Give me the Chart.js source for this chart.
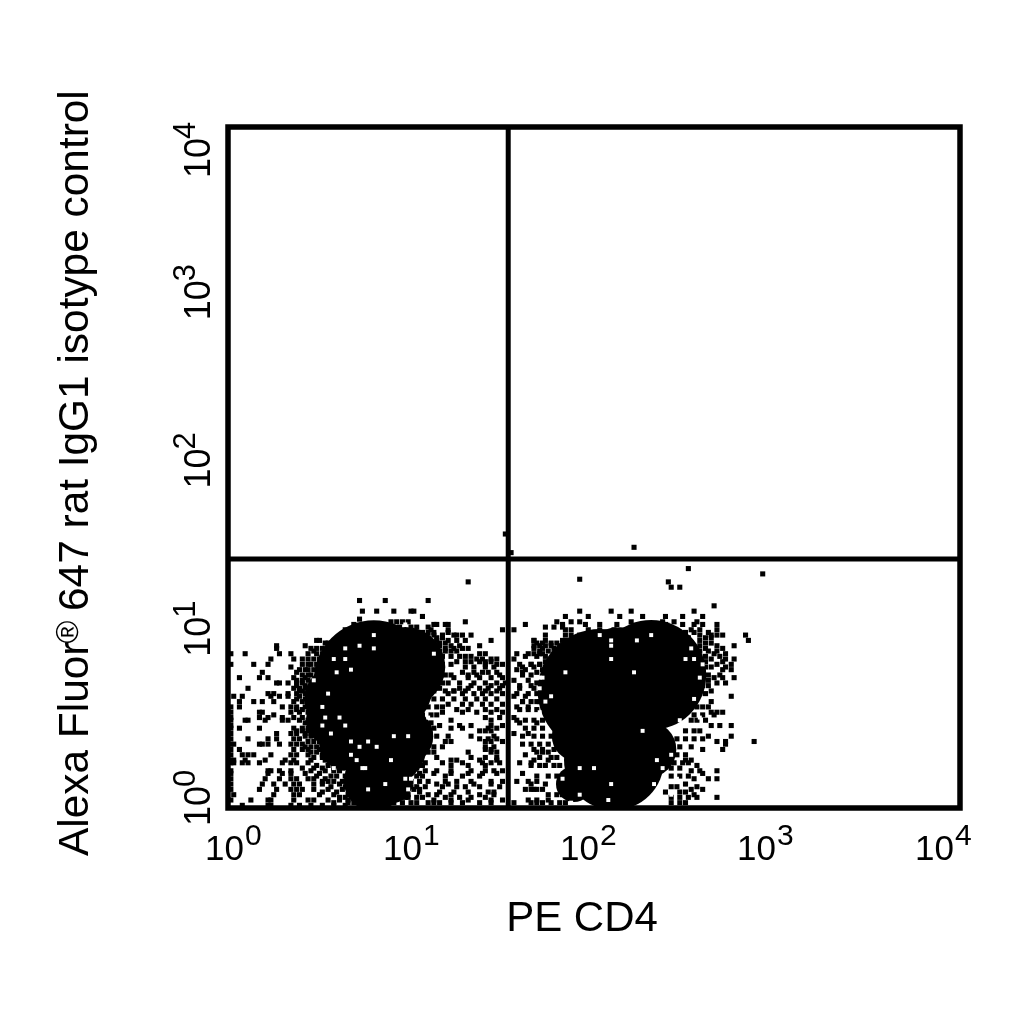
<!DOCTYPE html>
<html>
<head>
<meta charset="utf-8">
<title>PE CD4 dot plot</title>
<script src="https://cdn.jsdelivr.net/npm/chart.js@4"></script>
<style>
  html, body { margin: 0; padding: 0; background: #fff; }
  canvas { display: block; }
</style>
</head>
<body>
<canvas id="dotPlot" width="1024" height="1024"></canvas>
<script>
const channelsPerDecade = 64;
const decades = [0, 1, 2, 3, 4];
const xAxisTitle = "PE CD4";
const yAxisTitle = ["Alexa Fluor", "\u00AE", " 647 rat IgG1 isotype control"];

// quadrant gate, in channels
const gateXChannel = 98;
const gateYChannel = 93.6;

// saturated parts of the three populations [x, y]
const coreEvents = [
  [51, 48], [130, 44], [148, 50], [135, 18], [55, 24], [51, 10], [36, 33], [62, 53], [39, 41],
  [137, 51], [122, 27], [147, 22], [41, 24], [62, 27], [121, 9], [57, 10]
];

// [y, x, x, ...] rows of single events
const leftEvents = [
  [78, 46], [74, 47], [71, 46], [69, 44], [67, 41], [65, 43], [63, 31, 32], [61, 17, 27], [60, 17, 29], [59, 30],
  [58, 1, 6, 18, 22], [56, 15, 23, 26], [54, 1, 9, 14, 28], [53, 22], [52, 27], [51, 12, 24],
  [49, 4, 11, 14, 23, 27], [47, 17, 18, 21, 24, 26], [45, 7, 23, 25, 27], [43, 14, 16, 21, 24, 27, 29],
  [42, 2, 5, 15, 18, 21, 25, 28], [40, 4, 9, 12, 16, 23, 26, 29], [38, 1, 4, 19, 22, 24, 27],
  [36, 1, 11, 12, 22, 25, 28], [35, 16], [34, 1, 11, 14, 19, 23, 26], [33, 1, 6, 7, 13, 19, 21, 25, 28],
  [31, 1], [30, 1, 4, 11, 23, 26, 28], [28, 1, 17, 22, 24, 27, 29], [26, 1, 7, 14, 17, 23, 25],
  [24, 1, 2, 11, 12, 14, 18, 22, 24, 26], [22, 1, 4, 23, 26, 28, 32], [20, 1, 5, 7, 9, 15, 22, 24, 28, 33],
  [18, 1, 2, 6, 13, 20, 23, 29], [17, 1, 2, 5, 7, 11, 19, 22, 24, 28], [14, 1, 14, 15, 18, 22, 29, 34],
  [13, 1, 14, 19, 22, 27, 32], [11, 1, 13, 18, 22, 24, 28, 30, 34], [9, 1, 12, 16, 20, 23, 25, 30, 33, 39],
  [7, 1, 11, 17, 22, 24, 26, 30, 35, 40], [5, 2, 16, 23, 25, 32, 37, 42], [3, 1, 8, 14, 15, 23, 28, 30, 35, 39, 42],
  [1, 5, 14, 15, 22, 25, 29, 33, 37, 41]
];
const middleEvents = [
  [78, 55, 70], [74, 52, 58, 64, 65], [72, 68], [70, 83], [69, 72, 73, 76, 77, 104], [67, 71, 77, 96, 100],
  [66, 77], [65, 72, 75, 79, 80, 82, 85], [63, 73, 77, 80, 83, 92, 107], [61, 74, 78, 81, 88, 107, 109],
  [60, 76, 79, 82, 84], [58, 88, 90, 101, 105, 109], [57, 81, 83, 85], [56, 87, 89, 92, 94, 100], [55, 80, 83, 85, 88, 90, 92],
  [54, 90, 94, 96, 102, 106, 109], [53, 83, 86, 90, 93], [52, 101, 104], [51, 74, 82, 86, 89, 91, 94, 103, 108],
  [50, 84, 87, 95], [49, 79, 84, 88, 92, 96], [48, 100, 105], [47, 77, 81, 86, 90, 94, 97], [46, 85, 92, 96],
  [45, 74, 81, 84, 88, 91, 95, 102, 107], [44, 79, 83, 90, 94],
  [43, 77, 82, 86, 89, 92, 96], [42, 100, 104], [41, 79, 83, 87, 90, 94], [40, 103, 108],
  [39, 77, 82, 85, 89, 92, 96], [38, 101, 105], [37, 80, 84, 90, 94], [36, 75, 82, 87, 92, 96], [34, 90, 95, 100],
  [33, 78, 92], [32, 102, 108],
  [31, 74, 81, 85, 92, 96], [30, 72, 78, 82, 91, 94], [29, 88, 90, 92], [28, 100, 105], [27, 73, 77, 85, 93],
  [26, 88, 91, 94], [25, 76, 78, 90, 92, 96],
  [23, 72, 75, 90, 93], [22, 90, 92], [21, 70, 72, 84, 92, 94], [20, 104], [19, 73, 85, 90, 94], [18, 78, 80, 88, 94],
  [17, 69, 75, 82, 89, 92, 95, 102, 106], [16, 78, 84, 90],
  [14, 69, 73, 78, 85, 90, 93, 96], [13, 72, 78, 84, 89, 94, 103], [12, 76, 82, 88], [10, 70, 76, 80, 85, 92, 96, 101, 105, 108],
  [9, 73, 77, 86, 92], [8, 69, 75, 80, 83, 88, 95], [7, 104, 107], [6, 67, 74, 79, 84, 91, 93], [5, 70, 73, 78, 88, 93],
  [4, 60, 66, 76, 81, 85, 90], [3, 72, 78, 84, 92, 96],
  [2, 61, 70, 78, 82, 88, 92, 100, 106, 108]
];
const rightEvents = [
  [76, 170], [74, 123, 134, 141, 163], [72, 118, 126, 137, 145, 153, 159, 166],
  [70, 115, 120, 123, 141, 152, 156, 164], [69, 117, 125, 130, 136, 145, 153, 159, 163, 166, 171],
  [67, 118, 120, 126, 130, 135, 144, 162, 165, 171], [65, 111, 118, 120, 123, 165, 169, 171, 173, 181],
  [63, 107, 111, 117, 118, 165, 182], [61, 111, 113, 116, 165, 171, 177], [60, 107, 110, 114, 117, 167, 173],
  [58, 107, 110, 114, 117, 170, 174], [56, 169, 174, 177], [54, 106, 109, 113, 171, 176], [52, 110, 173, 176],
  [49, 170, 173, 177], [47, 108, 110, 171, 174], [44, 169], [42, 176], [40, 169], [36, 169, 171, 173],
  [31, 169, 172, 176], [27, 168, 176], [25, 171, 174, 184], [24, 174], [22, 166, 173], [21, 108, 110, 112],
  [18, 107, 112, 160, 162], [16, 106, 109, 164], [14, 162, 165, 171], [13, 166], [11, 163, 168, 171],
  [9, 106, 111, 160], [7, 106, 108, 110, 162, 166], [5, 163], [4, 164, 171], [3, 105, 108, 112]
];
const outlierEvents = [
  [103, 97], [98, 142], [96, 99], [90, 161], [88, 187], [86, 123], [85, 84, 154], [83, 155, 158]
];
// denser events on the shoulders of the populations
const shoulderEvents = [
  [70, 57, 59, 61, 63], [68, 50, 52, 54, 56, 60, 64, 66, 70], [66, 48, 50, 53, 55, 59, 62, 66, 68, 70, 72],
  [64, 47, 49, 52, 56, 60, 65, 68, 70, 73, 75], [62, 34, 35, 37, 39, 42, 44, 47, 50, 54, 57, 60, 63, 66, 69, 72, 74, 76],
  [60, 31, 33, 35, 37], [59, 74, 76, 78, 80], [58, 28, 31, 33, 35], [57, 72, 75, 78], [56, 28, 30, 32], [54, 26, 29, 31, 73, 75, 78],
  [52, 25, 28, 30], [50, 26, 28, 29, 72, 76, 78], [48, 24, 26, 28], [47, 72, 75], [46, 24, 27, 29], [44, 25, 26, 28, 72, 76, 79],
  [41, 24, 27, 29, 72, 75], [38, 70, 73, 75], [37, 24, 26, 29], [35, 68, 71, 73], [32, 27, 29, 30, 68, 71], [29, 24, 26, 28, 30, 66, 69],
  [27, 27, 29, 31], [26, 64, 67, 70], [25, 28, 30, 32], [23, 27, 29, 31, 33], [22, 63, 66, 68], [21, 29, 31, 35], [19, 30, 33, 36],
  [18, 62, 65, 67], [16, 31, 35, 38], [15, 26, 30, 33, 37, 40, 60, 63, 66], [12, 31, 36, 38, 41, 60, 63, 66, 68], [10, 33, 37, 40],
  [8, 36, 41, 44, 58, 61, 64, 66], [6, 33, 38, 43], [5, 57, 60, 63], [4, 39, 41, 44, 46], [2, 37, 42, 44, 47, 52, 55, 58],
  [30, 68, 70], [28, 33, 35, 38], [27, 66, 68], [26, 33, 36], [24, 34, 37, 40, 66, 69], [22, 35, 38], [21, 66, 68], [20, 35, 37, 40],
  [19, 64, 67], [18, 34, 37, 39, 42], [16, 39, 41, 43, 64, 68], [14, 37, 39, 42, 45], [13, 64, 67], [12, 43, 45],
  [10, 35, 42, 44, 47, 64, 67], [8, 46, 48], [7, 65, 67], [6, 45, 47, 50], [4, 48, 50, 53, 62, 63, 68], [3, 45, 47, 49, 52, 56], [2, 64, 66, 72, 74],
  [68, 111, 114, 117], [62, 108, 110, 113, 115, 119], [59, 109, 112, 115, 118], [57, 104, 108, 111, 115, 118], [55, 111, 115, 118],
  [53, 103, 107, 111, 114], [50, 103, 106, 112, 115], [46, 102, 106, 110, 113], [43, 101, 105, 108], [40, 103, 106, 109],
  [37, 102, 105, 108], [33, 101, 104, 107, 110], [30, 104, 107, 110], [27, 103, 107, 110, 113], [24, 103, 106, 109, 112, 115],
  [22, 107, 110, 114], [19, 109, 113, 115], [16, 111, 114, 116], [12, 108, 112, 115], [5, 112, 115, 117], [2, 110, 113, 116, 118],
  [66, 160, 163, 168], [64, 158, 161, 167, 169], [62, 162, 167, 169], [59, 163, 165, 168, 171], [57, 165, 167, 172],
  [55, 164, 167, 173], [53, 167, 169, 174], [50, 165, 168, 172], [48, 166, 168], [46, 166, 168], [43, 165, 167],
  [38, 164, 166, 168], [35, 163, 166, 170], [33, 162, 164, 167], [29, 160, 163, 165], [26, 157, 160, 163, 166],
  [23, 155, 158, 162], [20, 153, 157, 160], [17, 156, 159, 161], [15, 155, 158], [12, 155, 158, 161], [8, 155, 157, 164],
  [6, 153, 158, 160], [4, 155, 158, 161], [2, 155, 158, 160]
];
// unstained gaps left inside the saturated populations
const gapEvents = [
  [69, 62], [65, 51, 130, 148], [63, 134, 143], [61, 46, 134], [60, 41, 51, 162], [58, 72], [56, 37, 41, 134, 160, 163],
  [54, 166], [52, 43], [51, 38, 118, 142], [49, 108, 109, 110, 165], [48, 30], [45, 109], [43, 35], [42, 113],
  [41, 163], [40, 111], [38, 33], [36, 109], [34, 34, 39, 70, 165], [33, 158], [31, 33, 41], [29, 145], [28, 36],
  [27, 58, 63], [25, 43, 49], [23, 46, 52], [20, 43, 155], [18, 45, 57, 150], [15, 37, 47, 48, 123, 128, 152],
  [11, 62, 64, 117, 157], [10, 153], [9, 55, 134, 149], [7, 49, 63], [5, 123, 155], [3, 133], [2, 120, 152]
];

const coreRadii = [60, 62, 55, 50, 42, 30, 25, 40, 35, 45, 25, 28, 26, 28, 18, 22];
const tickXOffset = [-23, -28, -34, -40, -45];
const tickYOffset = [18, 19, 21, 23, 51];

const channelValue = (ch) => Math.pow(10, ch / channelsPerDecade);
const toPoint = (xCh, yCh) => ({ x: channelValue(xCh), y: channelValue(yCh) });
const rowsToPoints = (rows) => {
  let pts = [];
  rows.forEach((row) => {
    for (let n = 1; n < row.length; n++) pts.push(toPoint(row[n], row[0]));
  });
  return pts;
};

const fontName = '"Liberation Sans", Arial, sans-serif';

const labelPlugin = {
  id: "labelPlugin",
  afterDraw(chart) {
    const ctx = chart.ctx;
    const area = chart.chartArea;
    ctx.save();
    // frame
    ctx.strokeStyle = "#000";
    ctx.lineWidth = 5.5;
    ctx.strokeRect(area.left, area.top, area.right - area.left, area.bottom - area.top);
    ctx.fillStyle = "#000";
    ctx.textAlign = "left";
    ctx.textBaseline = "alphabetic";

    // x tick labels, 10 with the exponent raised
    decades.forEach((d, i) => {
      const px = chart.scales.x.getPixelForValue(Math.pow(10, d)) + tickXOffset[i];
      ctx.font = "35px " + fontName;
      ctx.fillText("10", px, 860);
      const w = ctx.measureText("10").width;
      ctx.font = "30px " + fontName;
      ctx.fillText(String(d), px + w + 1, 845);
    });
    // y tick labels, rotated
    decades.forEach((d, i) => {
      const py = chart.scales.y.getPixelForValue(Math.pow(10, d)) + tickYOffset[i];
      ctx.save();
      ctx.translate(210, py);
      ctx.rotate(-Math.PI / 2);
      ctx.font = "36px " + fontName;
      ctx.fillText("10", 0, 0);
      const w = ctx.measureText("10").width;
      ctx.font = "31px " + fontName;
      ctx.fillText(String(d), w - 1, -15);
      ctx.restore();
    });

    // axis titles
    ctx.font = "42px " + fontName;
    ctx.textAlign = "center";
    ctx.fillText(xAxisTitle, 582, 931);
    ctx.textAlign = "left";
    ctx.save();
    ctx.translate(88, 856);
    ctx.rotate(-Math.PI / 2);
    let pos = 0;
    ctx.font = "42.4px " + fontName;
    ctx.fillText(yAxisTitle[0], pos, 0);
    pos += ctx.measureText(yAxisTitle[0]).width;
    ctx.font = "31px " + fontName;
    ctx.fillText(yAxisTitle[1], pos - 2, -10);
    pos += ctx.measureText(yAxisTitle[1]).width - 4;
    ctx.font = "42.4px " + fontName;
    ctx.fillText(yAxisTitle[2], pos, 0);
    ctx.restore();
    ctx.restore();
  }
};

new Chart(document.getElementById("dotPlot"), {
  type: "scatter",
  data: {
    datasets: [
      {
        label: "gate x",
        data: [toPoint(gateXChannel, 0), toPoint(gateXChannel, 256)],
        showLine: true, borderColor: "#000", borderWidth: 5, pointRadius: 0
      },
      {
        label: "gate y",
        data: [toPoint(0, gateYChannel), toPoint(256, gateYChannel)],
        showLine: true, borderColor: "#000", borderWidth: 5, pointRadius: 0
      },
      {
        label: "gaps",
        data: rowsToPoints(gapEvents),
        pointStyle: "rect", pointRadius: 2.8, pointBorderWidth: 0, backgroundColor: "#fff"
      },
      {
        label: "events",
        data: rowsToPoints(leftEvents.concat(middleEvents, rightEvents, outlierEvents, shoulderEvents)),
        pointStyle: "rect", pointRadius: 3.6, pointBorderWidth: 0, backgroundColor: "#000"
      },
      {
        label: "core",
        data: coreEvents.map((p) => toPoint(p[0], p[1])),
        pointRadius: coreRadii, pointBorderWidth: 0, backgroundColor: "#000"
      }
    ]
  },
  options: {
    responsive: false,
    animation: false,
    devicePixelRatio: 1,
    layout: { padding: { left: 220, top: 127, right: 64, bottom: 208 } },
    plugins: { legend: { display: false }, tooltip: { enabled: false } },
    scales: {
      x: {
        type: "logarithmic", min: 1, max: 10000,
        ticks: { display: false }, grid: { display: false }, border: { display: false }
      },
      y: {
        type: "logarithmic", min: 1, max: 10000,
        ticks: { display: false }, grid: { display: false }, border: { display: false }
      }
    }
  },
  plugins: [labelPlugin]
});
</script>
</body>
</html>
